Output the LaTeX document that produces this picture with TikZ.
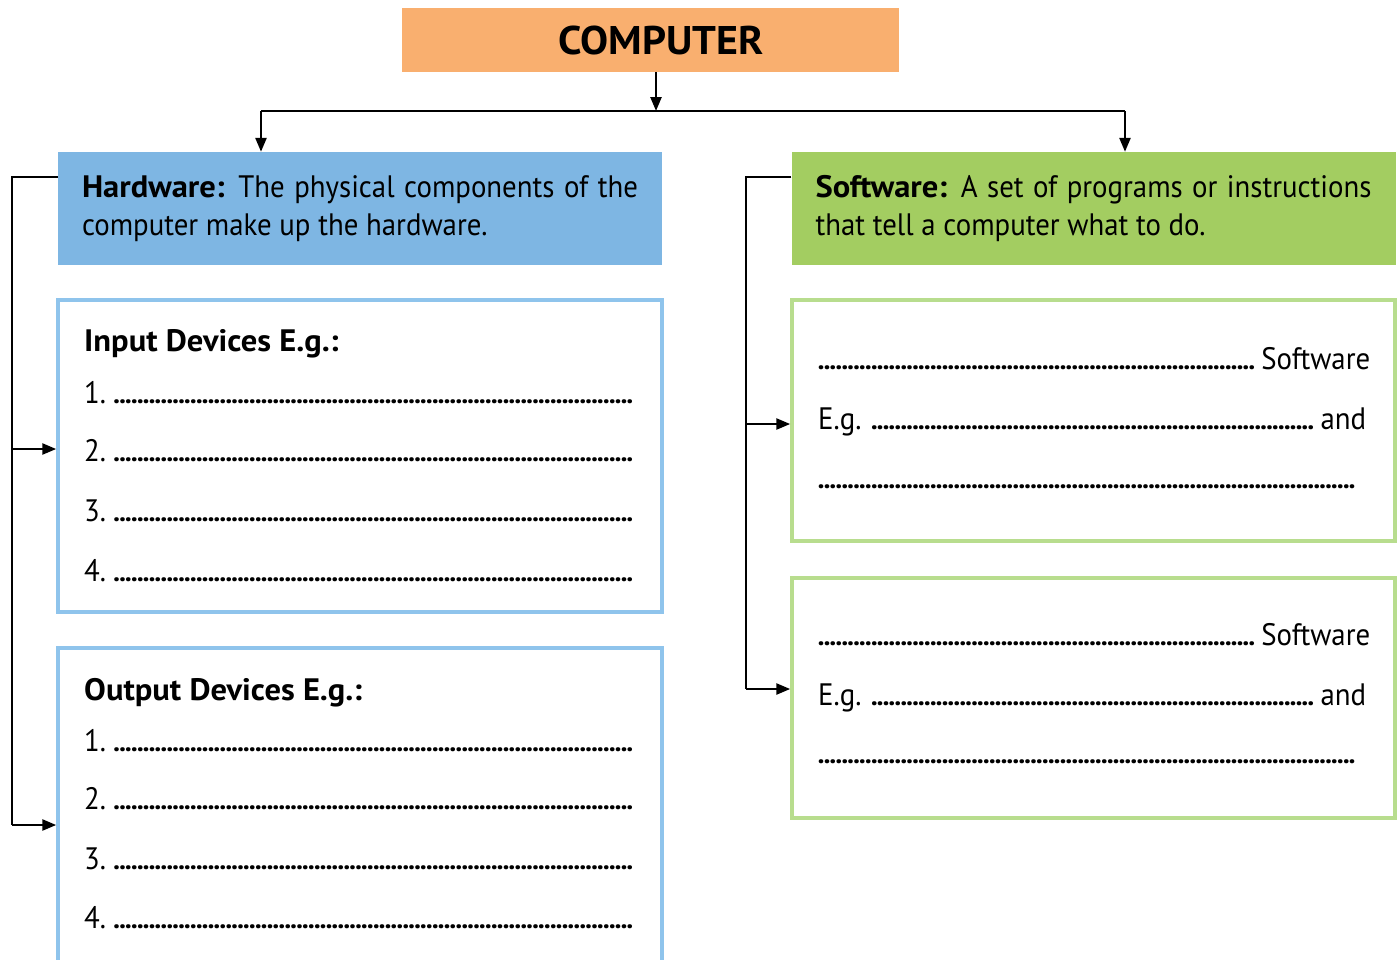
\documentclass[tikz,border=0pt]{standalone}
\usepackage{fontspec}
\setmainfont{PT Sans}[FakeStretch=0.93, BoldFeatures={FakeStretch=1.05}]
\usetikzlibrary{arrows.meta}

\definecolor{compfill}{HTML}{F9AF6F}
\definecolor{hwfill}{HTML}{7EB6E3}
\definecolor{swfill}{HTML}{A3CD61}
\definecolor{hwline}{HTML}{8FC4EC}
\definecolor{swline}{HTML}{B8DD8E}

% row of close-set dots used as blanks to write in
\newcommand\leaderdots{\leaders\hbox to 5.9pt{\hss\fontsize{27}{27}\selectfont\bfseries.\hss}\hfill}

\tikzset{
  every node/.style={font=\fontsize{31}{38}\selectfont},
  topbox/.style={fill=compfill, minimum width=497pt, minimum height=64pt, inner sep=0pt,
                 font=\fontsize{40}{40}\selectfont\bfseries},
  defbox/.style={minimum width=604pt, minimum height=113pt, inner xsep=24pt, inner ysep=0pt,
                 text width=556pt, align=justify},
  hwlist/.style={draw=hwline, line width=3.5pt, fill=white, minimum width=604pt, inner sep=0pt},
  swlist/.style={draw=swline, line width=3.5pt, fill=white, minimum width=603pt, inner sep=0pt},
  rowtext/.style={anchor=base west, inner sep=0pt},
  link/.style={line width=2.5pt, black},
  arr/.style={link, -{Triangle[length=14pt,width=11pt]}},
}

\begin{document}
\begin{tikzpicture}[x=1pt,y=-1pt]
\useasboundingbox (0,0) rectangle (1398,959);
\fill[white] (0,0) rectangle (1398,959);

% top node
\node[topbox] (comp) at (650.5,40) {\hspace*{21pt}COMPUTER};

% definition boxes
\node[defbox, fill=hwfill] (hw) at (360,208.5)
  {\textbf{Hardware:} The physical components of the\linebreak computer make up the hardware.};
\node[defbox, fill=swfill] (sw) at (1093.5,208.5)
  {\textbf{Software:} A set of programs or instructions\linebreak that tell a computer what to do.};

% list boxes
\node[hwlist, minimum height=312pt] (inbox) at (360,456) {};
\node[hwlist, minimum height=316pt] (outbox) at (360,806) {};
\node[swlist, minimum height=241pt] (swa) at (1093.5,420.5) {};
\node[swlist, minimum height=240pt] (swb) at (1093.5,698) {};

% input devices
\node[rowtext] (inT) at (84,351) {\textbf{Input Devices E.g.:}};
\node[rowtext] (in1) at (84,403) {\hbox to 550pt{1.\kern5pt\leaderdots}};
\node[rowtext] (in2) at (84,461) {\hbox to 550pt{2.\kern5pt\leaderdots}};
\node[rowtext] (in3) at (84,521) {\hbox to 550pt{3.\kern5pt\leaderdots}};
\node[rowtext] (in4) at (84,581) {\hbox to 550pt{4.\kern5pt\leaderdots}};

% output devices
\node[rowtext] (outT) at (84,700) {\textbf{Output Devices E.g.:}};
\node[rowtext] (out1) at (84,751) {\hbox to 550pt{1.\kern5pt\leaderdots}};
\node[rowtext] (out2) at (84,809) {\hbox to 550pt{2.\kern5pt\leaderdots}};
\node[rowtext] (out3) at (84,869) {\hbox to 550pt{3.\kern5pt\leaderdots}};
\node[rowtext] (out4) at (84,928) {\hbox to 550pt{4.\kern5pt\leaderdots}};

% software kinds
\node[rowtext] (sa1) at (818,369) {\hbox to 552pt{\leaderdots\kern4pt Software}};
\node[rowtext] (sa2) at (818,429) {\hbox to 548pt{E.g.\kern6pt\leaderdots\kern4pt and}};
\node[rowtext] (sa3) at (818,488) {\hbox to 542pt{\leaderdots}};
\node[rowtext] (sb1) at (818,645) {\hbox to 552pt{\leaderdots\kern4pt Software}};
\node[rowtext] (sb2) at (818,705) {\hbox to 548pt{E.g.\kern6pt\leaderdots\kern4pt and}};
\node[rowtext] (sb3) at (818,763) {\hbox to 542pt{\leaderdots}};

% branching from the top node
\coordinate (split) at (656,111);
\coordinate (jl) at (261,111);
\coordinate (jr) at (1125,111);
\draw[arr] (split |- comp.south) -- (split);
\draw[link] (jl) -- (jr);
\draw[arr] (jl) -- (jl |- hw.north);
\draw[arr] (jr) -- (jr |- sw.north);

% hardware trunk
\coordinate (hl1) at (12,449);
\coordinate (hl2) at (12,825);
\draw[link] ([yshift=31.5pt]hw.west) -| (hl2);
\draw[arr] (hl1) -- (hl1 -| inbox.west);
\draw[arr] (hl2) -- (hl2 -| outbox.west);

% software trunk
\coordinate (sl1) at (746,424);
\coordinate (sl2) at (746,689);
\draw[link] ([yshift=31.5pt]sw.west) -| (sl2);
\draw[arr] (sl1) -- (sl1 -| swa.west);
\draw[arr] (sl2) -- (sl2 -| swb.west);
\end{tikzpicture}
\end{document}
